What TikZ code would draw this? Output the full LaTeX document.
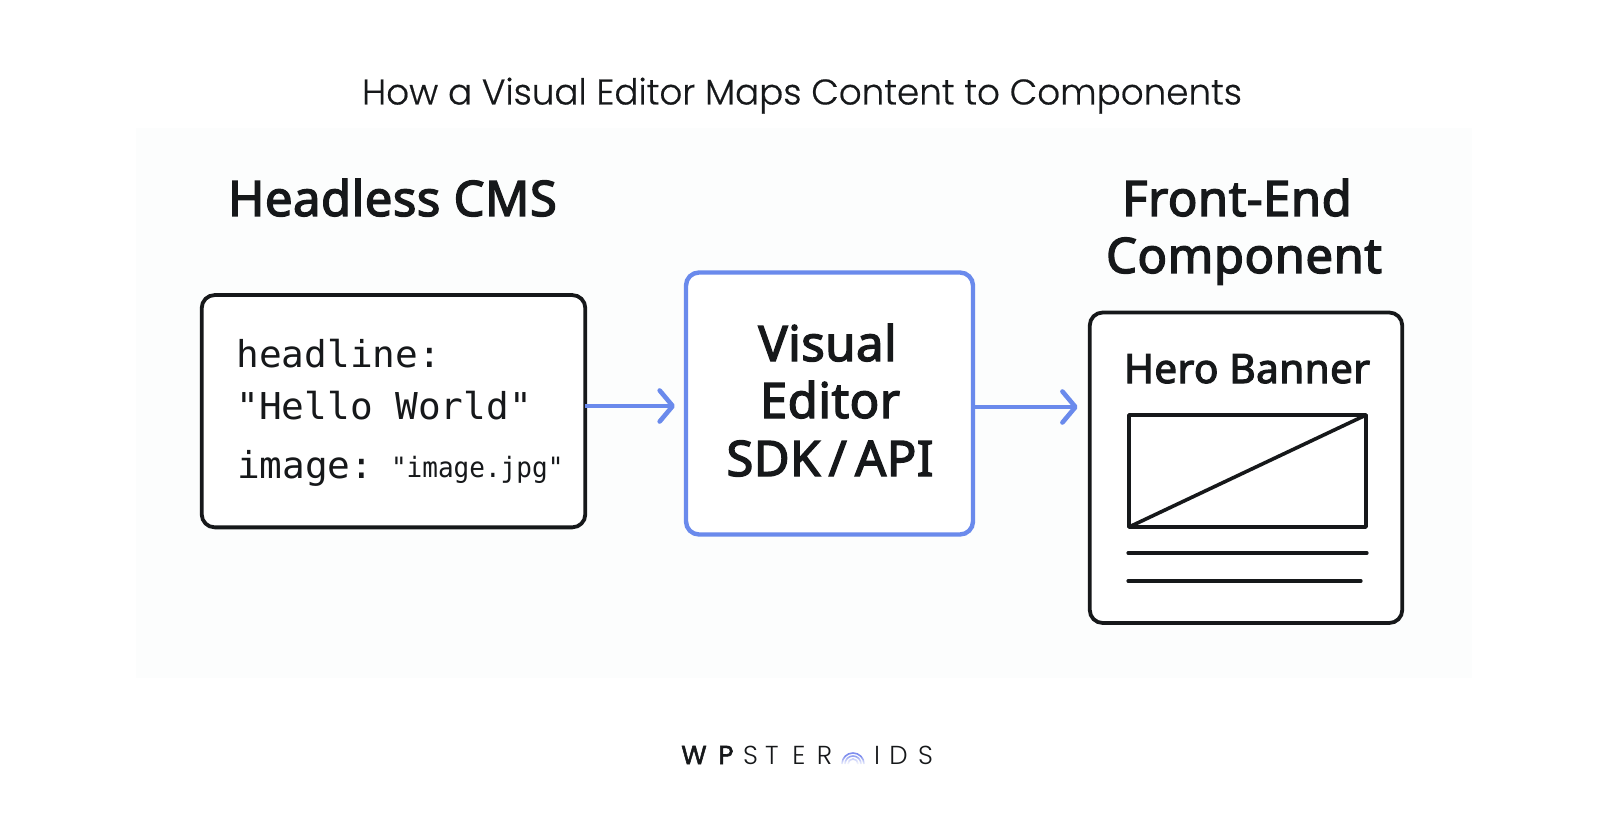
\documentclass[tikz,border=0pt]{standalone}
\usepackage{fontspec}
\setmainfont{Noto Sans}
\newfontfamily\ttlfont[FakeBold=0.5]{Poppins Light}
\newfontfamily\headfont[FakeBold=2.8,LetterSpace=1]{Noto Sans}
\newfontfamily\monofont{DejaVu Sans Mono}
\newfontfamily\logofont{Poppins Light}
\newfontfamily\logobold[FakeBold=2]{Poppins}
\usetikzlibrary{arrows.meta,fadings}
\definecolor{ink}{HTML}{16181A}
\definecolor{accent}{HTML}{6A8AEC}
\definecolor{panel}{HTML}{FCFDFD}
\tikzset{
  box/.style={draw=ink,line width=3.8pt,rounded corners=13pt,fill=white,inner sep=0pt,outer sep=0pt},
  accentbox/.style={box,draw=accent,line width=4.4pt},
  flow/.style={draw=accent,line width=4.6pt,-{Straight Barb[length=13pt,width=31pt,round]}},
  txt/.style={anchor=base,inner sep=0pt,outer sep=0pt,text=ink},
  ttl/.style={txt,font=\ttlfont\fontsize{35.7}{36}\selectfont},
  head/.style={txt,font=\headfont\fontsize{49}{49}\selectfont},
  herolabel/.style={txt,font=\headfont\fontsize{40.5}{41}\selectfont},
  code/.style={txt,anchor=base west,font=\monofont\fontsize{37}{37}\selectfont,xscale=1.02,transform shape},
  codesmall/.style={txt,anchor=base west,font=\monofont\fontsize{28}{28}\selectfont,xscale=.93,transform shape},
  wire/.style={draw=ink,line width=3.6pt,line cap=round,line join=round},
  logoa/.style={txt,font=\logobold\fontsize{26}{26}\selectfont},
  logob/.style={txt,font=\logofont\fontsize{26}{26}\selectfont},
}
\begin{document}
\begin{tikzpicture}[x=1pt,y=-1pt]
\useasboundingbox (0,0) rectangle (1612,818);
\fill[white] (0,0) rectangle (1612,818);
\fill[panel] (136,128) rectangle (1472,678);
\node[ttl] (title) at (802,104.5) {How a Visual Editor Maps Content to Components};
\node[head] (hcms) at (392.5,216) {Headless CMS};
\node[head] (fe1) at (1237,216) {Front-End};
\node[head] (fe2) at (1244,273) {Component};

\node[box,minimum width=383.6pt,minimum height=232.3pt] (cms) at (393.5,411.2) {};
\node[code] (c1) at (236.5,367) {headline:};
\node[code] (c2) at (236.5,419) {"Hello World"};
\node[code] (c3) at (237,478) {image:};
\node[codesmall] (c4) at (391,477) {"image.jpg"};

\node[accentbox,minimum width=287pt,minimum height=262pt] (editor) at (829.5,403.5) {};
\node[head] (v1) at (827.5,361) {Visual};
\node[head] (v2) at (830,418) {Editor};
\node[head] (v3) at (830,476) {SDK\,/\,API};

\node[box,minimum width=312.5pt,minimum height=310.5pt] (comp) at (1246,467.75) {};
\node[herolabel] (hero) at (1247,383) {Hero Banner};
\coordinate (imgtl) at (1129,415);
\coordinate (imgtr) at (1366,415);
\coordinate (imgbr) at (1366,527);
\coordinate (imgbl) at (1129,527);
\draw[wire] (imgtl) -- (imgtr) -- (imgbr) -- (imgbl) -- cycle;
\draw[wire] (imgbl) -- (imgtr);
\coordinate (l1a) at (1128,553);
\coordinate (l1b) at (1367,553);
\coordinate (l2a) at (1128,581);
\coordinate (l2b) at (1361,581);
\draw[wire,line width=3.2pt] (l1a) -- (l1b);
\draw[wire,line width=3.2pt] (l2a) -- (l2b);

\coordinate (y1) at (0,406);
\coordinate (y2) at (0,407);
\draw[flow,shorten >=11pt] (cms.east |- y1) -- (editor.west |- y1);
\draw[flow,shorten >=12pt] (editor.east |- y2) -- (comp.west |- y2);

\node[logoa] (lw) at (694,764) {W};
\node[logoa] (lp) at (726,764) {P};
\node[logob] (ls) at (750.5,764) {S};
\node[logob] (lt) at (772,764) {T};
\node[logob] (le) at (799,764) {E};
\node[logob] (lr) at (824.5,764) {R};
\foreach \r/\c in {11/7F8EEE,8/96A4F2,5/B4BEF6}{
  \definecolor{arcc}{HTML}{\c}
  \draw[arcc,line width=1.6pt] (853-\r,764) arc[start angle=180,end angle=0,x radius=\r pt,y radius=\r pt];
}
\fill[white,path fading=north] (840,756) rectangle (866,765);
\node[logob] (li) at (877,764) {I};
\node[logob] (ld) at (898.5,764) {D};
\node[logob] (ls2) at (925.5,764) {S};
\end{tikzpicture}
\end{document}
